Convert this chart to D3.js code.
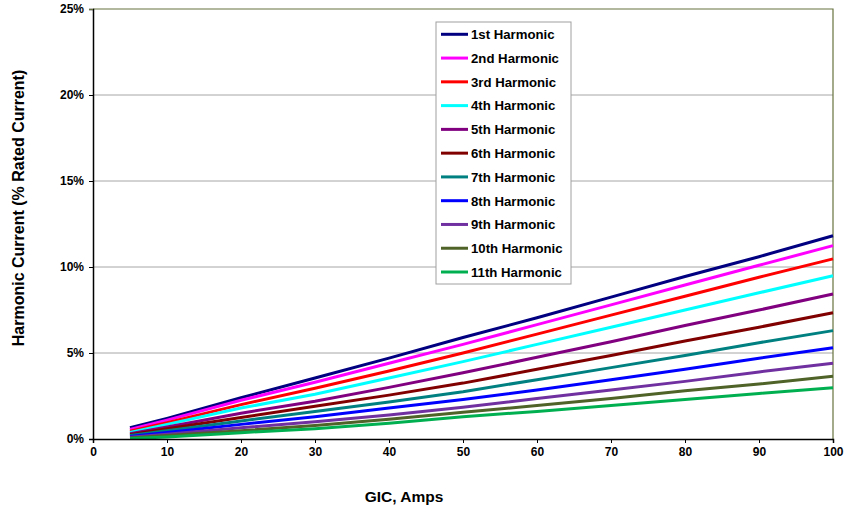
<!DOCTYPE html>
<html>
<head>
<meta charset="utf-8">
<script src="https://cdn.jsdelivr.net/npm/d3@7"></script>
<style>
  body { margin: 0; background: #fff; }
  svg text { font-family: "Liberation Sans", Arial, sans-serif; font-weight: bold; fill: #000; }
</style>
</head>
<body>
<svg id="chart" width="844" height="508"></svg>
<script>
// GIC (amps) sample points
var gic = [5, 10, 20, 30, 40, 50, 60, 70, 80, 90, 100];
// harmonic current, % of rated current
var h1  = [0.65, 1.20, 2.40, 3.55, 4.70, 5.90, 7.05, 8.25, 9.45, 10.60, 11.82];
var h2  = [0.55, 1.10, 2.25, 3.30, 4.40, 5.50, 6.65, 7.80, 8.95, 10.10, 11.24];
var h3  = [0.45, 0.95, 2.00, 2.95, 3.95, 5.00, 6.10, 7.20, 8.30, 9.40, 10.47];
var h4  = [0.38, 0.85, 1.80, 2.60, 3.55, 4.50, 5.50, 6.50, 7.50, 8.50, 9.49];
var h5  = [0.30, 0.70, 1.50, 2.20, 3.00, 3.85, 4.75, 5.65, 6.60, 7.50, 8.43];
var h6  = [0.25, 0.60, 1.25, 1.90, 2.55, 3.25, 4.05, 4.85, 5.70, 6.50, 7.34];
var h7  = [0.20, 0.48, 1.05, 1.60, 2.15, 2.75, 3.45, 4.15, 4.85, 5.60, 6.30];
var h8  = [0.15, 0.38, 0.85, 1.30, 1.80, 2.30, 2.85, 3.45, 4.05, 4.70, 5.31];
var h9  = [0.10, 0.28, 0.65, 1.00, 1.40, 1.85, 2.35, 2.85, 3.35, 3.90, 4.40];
var h10 = [0.06, 0.20, 0.48, 0.78, 1.15, 1.55, 1.95, 2.35, 2.80, 3.20, 3.65];
var h11 = [0.03, 0.12, 0.37, 0.60, 0.92, 1.30, 1.60, 1.95, 2.30, 2.65, 2.98];

var names = ["1st Harmonic", "2nd Harmonic", "3rd Harmonic", "4th Harmonic", "5th Harmonic",
             "6th Harmonic", "7th Harmonic", "8th Harmonic", "9th Harmonic", "10th Harmonic", "11th Harmonic"];
var colors = ["#000080", "#ff00ff", "#ff0000", "#00ffff", "#800080",
              "#800000", "#008080", "#0000ff", "#7030a0", "#4f6228", "#00b050"];
var xTicks = [0, 10, 20, 30, 40, 50, 60, 70, 80, 90, 100];
var yTicks = [0, 5, 10, 15, 20, 25];

var series = [h1, h2, h3, h4, h5, h6, h7, h8, h9, h10, h11];

var svg = d3.select("#chart");
var L = 93, R = 833, T = 9, B = 439;
var x = d3.scaleLinear().domain([0, 100]).range([L, R]);
var y = d3.scaleLinear().domain([0, 25]).range([B, T]);

// gridlines
svg.append("g").selectAll("line").data(yTicks.slice(1, -1)).enter().append("line")
  .attr("x1", L).attr("x2", R)
  .attr("y1", function (d) { return y(d); }).attr("y2", function (d) { return y(d); })
  .attr("stroke", "#a6a6a6").attr("stroke-width", 1);

// top / right frame
svg.append("path")
  .attr("d", "M" + L + "," + T + "H" + R + "V" + B)
  .attr("fill", "none").attr("stroke", "#66733f").attr("stroke-width", 1.2);

// lines
var line = d3.line()
  .x(function (d, i) { return x(gic[i]); })
  .y(function (d) { return y(d); });
svg.append("g").selectAll("path").data(series).enter().append("path")
  .attr("d", line)
  .attr("fill", "none")
  .attr("stroke", function (d, i) { return colors[i]; })
  .attr("stroke-width", 3);

// axes
var xAxis = svg.append("g").attr("transform", "translate(0," + B + ")")
  .call(d3.axisBottom(x).tickValues(xTicks).tickSize(4).tickPadding(4));
var yAxis = svg.append("g").attr("transform", "translate(" + L + ",0)")
  .call(d3.axisLeft(y).tickValues(yTicks).tickSize(4).tickPadding(5)
    .tickFormat(function (d) { return d + "%"; }));
[xAxis, yAxis].forEach(function (a) {
  a.select(".domain").attr("stroke", "#000").attr("stroke-width", 1.5);
  a.selectAll(".tick line").attr("stroke", "#000");
  a.selectAll("text").attr("font-size", 12).attr("font-family", "Liberation Sans, Arial, sans-serif")
    .attr("font-weight", "bold").attr("fill", "#000");
});
yAxis.selectAll(".tick").filter(function (d) { return d === 25; }).select("line").attr("stroke", "#66733f");

// axis titles
svg.append("text").attr("x", 404).attr("y", 502)
  .attr("text-anchor", "middle").attr("font-size", 15.5).text("GIC, Amps");
svg.append("text")
  .attr("transform", "translate(24," + 208 + ") rotate(-90)")
  .attr("text-anchor", "middle").attr("font-size", 16)
  .text("Harmonic Current (% Rated Current)");

// legend
var lx = 436, ly = 22, lw = 135, lh = 262, rowH = 23.77;
var leg = svg.append("g");
leg.append("rect").attr("x", lx).attr("y", ly).attr("width", lw).attr("height", lh)
  .attr("fill", "#fff").attr("stroke", "#a0a0a0").attr("stroke-width", 1);
var rows = leg.selectAll("g.row").data(names).enter().append("g")
  .attr("transform", function (d, i) { return "translate(0," + (ly + 12.3 + i * rowH) + ")"; });
rows.append("line").attr("x1", 441).attr("x2", 468).attr("y1", 0).attr("y2", 0)
  .attr("stroke", function (d, i) { return colors[i]; }).attr("stroke-width", 3);
rows.append("text").attr("x", 471).attr("y", 4.8).attr("font-size", 13.2)
  .text(function (d) { return d; });
</script>
</body>
</html>
